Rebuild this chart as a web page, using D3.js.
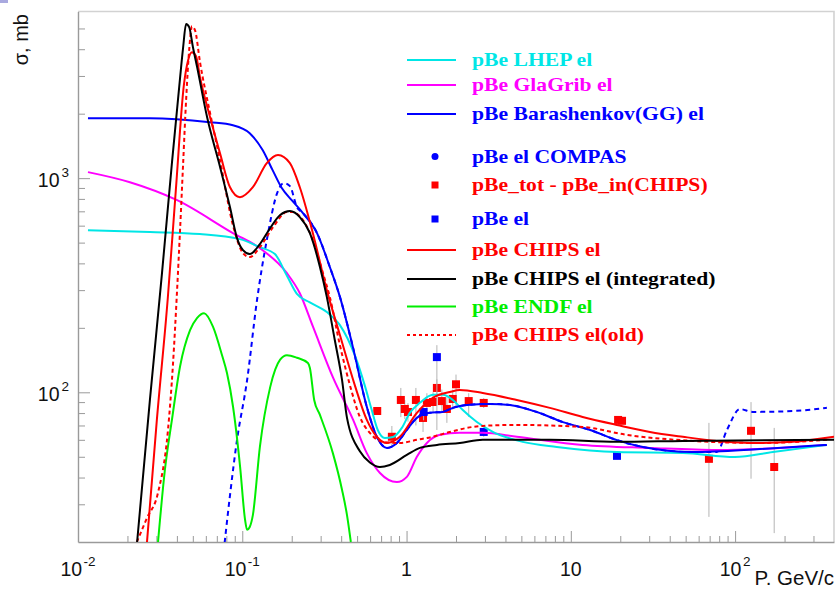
<!DOCTYPE html>
<html>
<head>
<meta charset="utf-8">
<script src="https://cdn.jsdelivr.net/npm/d3@7"></script>
<style>
  html, body { margin: 0; padding: 0; background: #fff; }
  svg { display: block; }
</style>
</head>
<body>
<svg id="chart" width="838" height="589"></svg>
<script>
// ---- Elastic p-Be cross section vs. momentum ----

// Axis ticks
const xMajor = [0.01, 0.1, 1, 10, 100];
const xMajorBase = ["10", "10", "1", "10", "10"];
const xMajorExp = ["-2", "-1", "", "", "2"];
const yMajor = [100, 1000];
const yMajorBase = ["10", "10"];
const yMajorExp = ["2", "3"];

// pBe LHEP el
const lhepP = [0.0115, 0.0274, 0.0552, 0.0966, 0.128, 0.158, 0.187, 0.215, 0.258, 0.327, 0.393, 0.484, 0.556, 0.614, 0.668, 0.738, 0.826, 0.936, 1.047, 1.205, 1.446, 1.664, 1.914, 2.20, 2.68, 3.35, 5.10, 8.22, 19.1, 48.1, 99.7, 170, 362];
const lhepS = [571, 560, 548, 519, 476, 442, 350, 288, 263, 237, 206, 149, 108, 82.6, 66.7, 61.2, 61.8, 68.2, 80.2, 89.3, 97.3, 97.3, 92.1, 82.7, 72.7, 65.4, 58.7, 55.6, 52.6, 52.1, 49.9, 52.6, 56.8];

// pBe GlaGrib el
const glaP = [0.0115, 0.0207, 0.0401, 0.0877, 0.128, 0.187, 0.224, 0.269, 0.357, 0.473, 0.573, 0.689, 0.873, 1.004, 1.156, 1.33, 1.60, 2.11, 2.91, 4.69, 11.8, 30.3, 77.4, 187, 362];
const glaS = [1067, 957, 789, 554, 471, 360, 290, 203, 117, 74.3, 52, 42, 38.1, 40.3, 50, 58, 63.3, 64.7, 64.7, 62, 56.8, 55, 53.8, 55, 56.8];

// pBe Barashenkov(GG) el
const barP = [0.0115, 0.0274, 0.0635, 0.0877, 0.111, 0.133, 0.153, 0.174, 0.200, 0.234, 0.285, 0.341, 0.393, 0.471, 0.573, 0.659, 0.759, 0.873, 1.004, 1.156, 1.387, 1.66, 1.914, 2.33, 3.21, 4.25, 6.21, 8.95, 13.1, 19.1, 27.5, 55.3, 142, 362];
const barS = [1906, 1906, 1824, 1767, 1622, 1352, 1090, 899, 789, 687, 554, 385, 279, 163, 85.5, 62, 55, 58, 66.8, 76, 80.2, 81, 84.6, 87.3, 88.3, 87.3, 80.9, 72.6, 66.7, 59.8, 55.5, 52.6, 54.3, 56.8];

// Dashed blue companion curve (no legend entry)
const gDashP = [0.0770, 0.0929, 0.107, 0.123, 0.141, 0.163, 0.179, 0.195, 0.215, 0.234, 0.285, 0.341, 0.393, 0.471, 0.573, 0.659, 0.759, 0.873, 1.004, 1.156, 1.387, 1.66, 1.914, 2.33, 3.21, 4.25, 6.21, 8.95, 13.1, 19.1, 27.5, 55.3, 77.4, 89.2, 107, 128, 225, 362];
const gDashS = [18, 59.9, 114, 270, 514, 851, 948, 918, 733, 687, 554, 385, 279, 163, 85.5, 62, 55, 58, 66.8, 76, 80.2, 81, 84.6, 87.3, 88.3, 87.3, 80.9, 72.6, 66.7, 59.8, 55.5, 52.6, 52.6, 66.7, 83.5, 81, 81.8, 84.6];

// pBe CHIPS el
const chipsP = [0.0263, 0.0302, 0.0352, 0.0394, 0.0441, 0.0468, 0.0494, 0.0523, 0.0553, 0.0637, 0.0732, 0.0842, 0.0968, 0.116, 0.141, 0.165, 0.195, 0.224, 0.269, 0.327, 0.393, 0.484, 0.573, 0.659, 0.759, 0.910, 1.156, 1.446, 1.835, 2.11, 2.91, 4.69, 7.45, 11.8, 19.1, 30.3, 48.1, 77.4, 142, 225, 400];
const chipsS = [20, 74.3, 275, 879, 2717, 3557, 3873, 3706, 2958, 1923, 1306, 907, 815, 907, 1175, 1282, 1175, 907, 553, 300, 185, 108, 74.3, 62, 58, 62, 80.2, 94.2, 100.3, 102.5, 99.3, 92.1, 84.6, 76.7, 70.4, 65.3, 62, 59.3, 58, 58.7, 62];

// pBe CHIPS el (integrated)
const integP = [0.0229, 0.0274, 0.0325, 0.0373, 0.0418, 0.0436, 0.0455, 0.0475, 0.0501, 0.0531, 0.0611, 0.0733, 0.0842, 0.0929, 0.101, 0.111, 0.128, 0.148, 0.170, 0.195, 0.224, 0.258, 0.297, 0.327, 0.366, 0.405, 0.434, 0.520, 0.598, 0.689, 0.791, 1.004, 1.205, 1.53, 2.11, 2.91, 7.45, 19.1, 48.1, 400];
const integS = [20, 92.1, 364, 1175, 2932, 4046, 5240, 5070, 4083, 3298, 1923, 1125, 731, 525, 461, 442, 492, 585, 673, 702, 658, 553, 385, 279, 175, 114, 76, 53, 47, 44.8, 45.8, 51, 55, 56.8, 58, 60, 60, 58.7, 59.3, 60];

// pBe ENDF el
const endfP = [0.0307, 0.0338, 0.0373, 0.0418, 0.0481, 0.0530, 0.0585, 0.0664, 0.0753, 0.0807, 0.0879, 0.0970, 0.104, 0.107, 0.111, 0.116, 0.128, 0.148, 0.170, 0.187, 0.215, 0.251, 0.258, 0.274, 0.297, 0.356, 0.405, 0.434, 0.458];
const endfS = [20, 43.4, 74.3, 132, 195, 222, 234, 202, 149, 123, 85.4, 44.9, 25.4, 22.8, 23.5, 26.7, 55.6, 106, 142, 149, 145, 137, 130, 92.1, 78.4, 52, 35, 26.7, 20];

// pBe CHIPS el(old)
const oldP = [0.0228, 0.0263, 0.0307, 0.0353, 0.0379, 0.0401, 0.0418, 0.0436, 0.0455, 0.0475, 0.0494, 0.0516, 0.0553, 0.0637, 0.0732, 0.0877, 0.101, 0.111, 0.128, 0.154, 0.187, 0.203, 0.234, 0.269, 0.310, 0.341, 0.393, 0.452, 0.520, 0.598, 0.718, 0.910, 1.156, 1.446, 1.835, 2.33, 2.91, 4.69, 11.8, 21.9, 55.3, 142, 362];
const oldS = [20, 25.9, 34, 66.7, 137, 300, 571, 1150, 2312, 3963, 5117, 4898, 3478, 2010, 1213, 604, 447, 428, 476, 591, 694, 694, 637, 514, 360, 279, 166, 108, 76.7, 64.6, 58.7, 58, 60, 62, 65.3, 68.2, 69.7, 70.4, 68.9, 63.3, 59.3, 58, 60];

// pBe_tot - pBe_in(CHIPS) points with error bars
const diffP = [0.663, 0.814, 0.923, 0.976, 1.02, 1.14, 1.26, 1.33, 1.45, 1.53, 1.64, 1.76, 1.91, 2.00, 2.39, 2.95, 19.4, 20.5, 69.3, 125, 173];
const diffS = [81.8, 62, 92.1, 83.6, 80.9, 92.1, 75.9, 89.2, 90.1, 104.8, 91, 83.6, 93.1, 109, 91, 89.2, 74.3, 73.6, 48.9, 66.1, 44.8];
const diffHi = [81.8, 69.6, 104.8, 92, 89, 104.8, 84.5, 99, 100, 115, 103, 95, 103, 121, 99, 94, 76, 75.5, 72, 90, 68.2];
const diffLo = [81.8, 55.6, 76.6, 75, 73, 70, 65.3, 80, 80, 94, 80, 72, 83, 85.4, 76.7, 84.5, 72.5, 71.8, 26.2, 39.5, 22];

// pBe el points
const elP = [1.27, 1.53, 2.95, 19.1];
const elS = [80.9, 146, 65.3, 50.5];
const elHi = [88, 166, 68, 52];
const elLo = [74, 66.7, 62, 49];

// ---- Scales ----
const svg = d3.select("#chart");
const x = d3.scaleLog().domain([0.01, 400]).range([78, 834]);
const y = d3.scaleLog().domain([20, 6000]).range([542, 11.5]);
const [x0, x1] = x.range();
const [yb, yt] = y.range();

svg.append("rect").attr("x", 0).attr("y", 0).attr("width", 838).attr("height", 589).attr("fill", "#fff");
svg.append("rect").attr("x", 0).attr("y", 0).attr("width", 8).attr("height", 3).attr("fill", "#a9a9df");

// Frame (top and right edges)
svg.append("path")
  .attr("d", `M${x0},${yt}H${x1}V${yb}`)
  .attr("fill", "none").attr("stroke", "#d2d2d2").attr("stroke-width", 1.6);

// Minor tick values for the log axes
function minorTicks(lo, hi) {
  const out = [];
  for (let e = Math.floor(Math.log10(lo)); e <= Math.ceil(Math.log10(hi)); e++) {
    for (let m = 2; m <= 9; m++) {
      const v = m * Math.pow(10, e);
      if (v > lo * 1.0001 && v < hi * 0.9999) out.push(v);
    }
  }
  return out;
}
const xMinor = minorTicks(0.01, 400);
const yMinor = minorTicks(20, 6000);

function styleAxis(g) {
  g.selectAll("path.domain").attr("stroke", "#9a9a9a").attr("stroke-width", 1.4);
  g.selectAll(".tick line").attr("stroke", "#9a9a9a").attr("stroke-width", 1);
  g.selectAll(".tick text").remove();
}

// X axis (ticks point into the plot)
svg.append("g").attr("transform", `translate(0,${yb})`)
  .call(d3.axisBottom(x).tickValues(xMajor).tickSizeInner(-11).tickSizeOuter(0).tickFormat(""))
  .call(styleAxis);
svg.append("g").attr("transform", `translate(0,${yb})`)
  .call(d3.axisBottom(x).tickValues(xMinor).tickSizeInner(-6).tickSizeOuter(0).tickFormat(""))
  .call(styleAxis).call(g => g.select("path.domain").remove());

// Y axis
svg.append("g").attr("transform", `translate(${x0},0)`)
  .call(d3.axisLeft(y).tickValues(yMajor).tickSizeInner(-12).tickSizeOuter(0).tickFormat(""))
  .call(styleAxis);
svg.append("g").attr("transform", `translate(${x0},0)`)
  .call(d3.axisLeft(y).tickValues(yMinor).tickSizeInner(-7).tickSizeOuter(0).tickFormat(""))
  .call(styleAxis).call(g => g.select("path.domain").remove());

const labelFont = "'Liberation Sans', Arial, Helvetica, sans-serif";

// X tick labels with exponents
xMajor.forEach((v, i) => {
  const t = svg.append("text")
    .attr("x", x(v)).attr("y", 576)
    .attr("text-anchor", "middle")
    .attr("font-family", labelFont).attr("font-size", 19.5).attr("fill", "#111");
  t.append("tspan").text(xMajorBase[i]);
  if (xMajorExp[i]) t.append("tspan").attr("dx", 1.5).attr("dy", -10).attr("font-size", 13.5).text(xMajorExp[i]);
});

// Y tick labels with exponents
yMajor.forEach((v, i) => {
  const t = svg.append("text")
    .attr("x", 69).attr("y", y(v) + 8.5)
    .attr("text-anchor", "end")
    .attr("font-family", labelFont).attr("font-size", 19.5).attr("fill", "#111");
  t.append("tspan").text(yMajorBase[i]);
  t.append("tspan").attr("dx", 2).attr("dy", -10).attr("font-size", 13.5).text(yMajorExp[i]);
});

// Axis titles
svg.append("text")
  .attr("x", 834).attr("y", 585).attr("text-anchor", "end")
  .attr("font-family", labelFont).attr("font-size", 20.5).attr("fill", "#111")
  .text("P. GeV/c");
svg.append("text")
  .attr("transform", "translate(28,14) rotate(-90)")
  .attr("text-anchor", "end")
  .attr("font-family", labelFont).attr("font-size", 20).attr("fill", "#111")
  .text("σ, mb");

// Plot area clip
svg.append("clipPath").attr("id", "plotClip")
  .append("rect").attr("x", x0).attr("y", yt).attr("width", x1 - x0).attr("height", yb - yt);
const plot = svg.append("g").attr("clip-path", "url(#plotClip)");

// Measured points: error bars then markers
const errColor = "#b4b4b4";
function drawPoints(P, S, Hi, Lo, color) {
  const pts = P.map((p, i) => ({ p, s: S[i], hi: Hi[i], lo: Lo[i] }));
  plot.append("g").selectAll("line").data(pts.filter(d => d.hi > d.lo)).join("line")
    .attr("x1", d => x(d.p)).attr("x2", d => x(d.p))
    .attr("y1", d => y(d.hi)).attr("y2", d => y(d.lo))
    .attr("stroke", errColor).attr("stroke-width", 1);
  plot.append("g").selectAll("rect").data(pts).join("rect")
    .attr("x", d => x(d.p) - 4).attr("y", d => y(d.s) - 4)
    .attr("width", 8).attr("height", 8).attr("fill", color);
}
drawPoints(diffP, diffS, diffHi, diffLo, "#ff0000");
drawPoints(elP, elS, elHi, elLo, "#0000ff");

// Curves
const line = d3.line().x(d => x(d[0])).y(d => y(d[1])).curve(d3.curveMonotoneX);
function drawCurve(P, S, color, dash) {
  plot.append("path")
    .datum(P.map((p, i) => [p, S[i]]))
    .attr("d", line)
    .attr("fill", "none")
    .attr("stroke", color)
    .attr("stroke-width", 2)
    .attr("stroke-dasharray", dash || null);
}
const cCyan = "#00e6e6", cMag = "#ff00ff", cBlue = "#0000ff", cRed = "#ff0000", cGreen = "#00ee00", cBlack = "#000000";
drawCurve(gDashP, gDashS, cBlue, "5,4");
drawCurve(endfP, endfS, cGreen);
drawCurve(glaP, glaS, cMag);
drawCurve(lhepP, lhepS, cCyan);
drawCurve(barP, barS, cBlue);
drawCurve(oldP, oldS, cRed, "4,3");
drawCurve(chipsP, chipsS, cRed);
drawCurve(integP, integS, cBlack);

// Legend
const legend = [
  { label: "pBe LHEP el", color: cCyan, kind: "line", y: 60 },
  { label: "pBe GlaGrib el", color: cMag, kind: "line", y: 85 },
  { label: "pBe Barashenkov(GG) el", color: cBlue, kind: "line", y: 114 },
  { label: "pBe el COMPAS", color: cBlue, kind: "circle", y: 156.5 },
  { label: "pBe_tot - pBe_in(CHIPS)", color: cRed, kind: "square", y: 185 },
  { label: "pBe el", color: cBlue, kind: "square", y: 219 },
  { label: "pBe CHIPS el", color: cRed, kind: "line", y: 250 },
  { label: "pBe CHIPS el (integrated)", color: cBlack, kind: "line", y: 279 },
  { label: "pBe ENDF el", color: cGreen, kind: "line", y: 306.5 },
  { label: "pBe CHIPS el(old)", color: cRed, kind: "dash", y: 335 }
];
const lg = svg.append("g");
legend.forEach(d => {
  if (d.kind === "line" || d.kind === "dash") {
    lg.append("line").attr("x1", 407).attr("x2", 456).attr("y1", d.y).attr("y2", d.y)
      .attr("stroke", d.color).attr("stroke-width", 2)
      .attr("stroke-dasharray", d.kind === "dash" ? "3,3" : null);
  } else if (d.kind === "circle") {
    lg.append("circle").attr("cx", 435).attr("cy", d.y).attr("r", 3.5).attr("fill", d.color);
  } else {
    lg.append("rect").attr("x", 431.5).attr("y", d.y - 3.5).attr("width", 7).attr("height", 7).attr("fill", d.color);
  }
  lg.append("text")
    .attr("transform", `translate(472,${d.y + 6}) scale(1.17,1)`)
    .attr("font-family", "'Liberation Serif', 'Times New Roman', serif")
    .attr("font-weight", "bold").attr("font-size", 18.5)
    .attr("fill", d.color)
    .text(d.label);
});
</script>
</body>
</html>
